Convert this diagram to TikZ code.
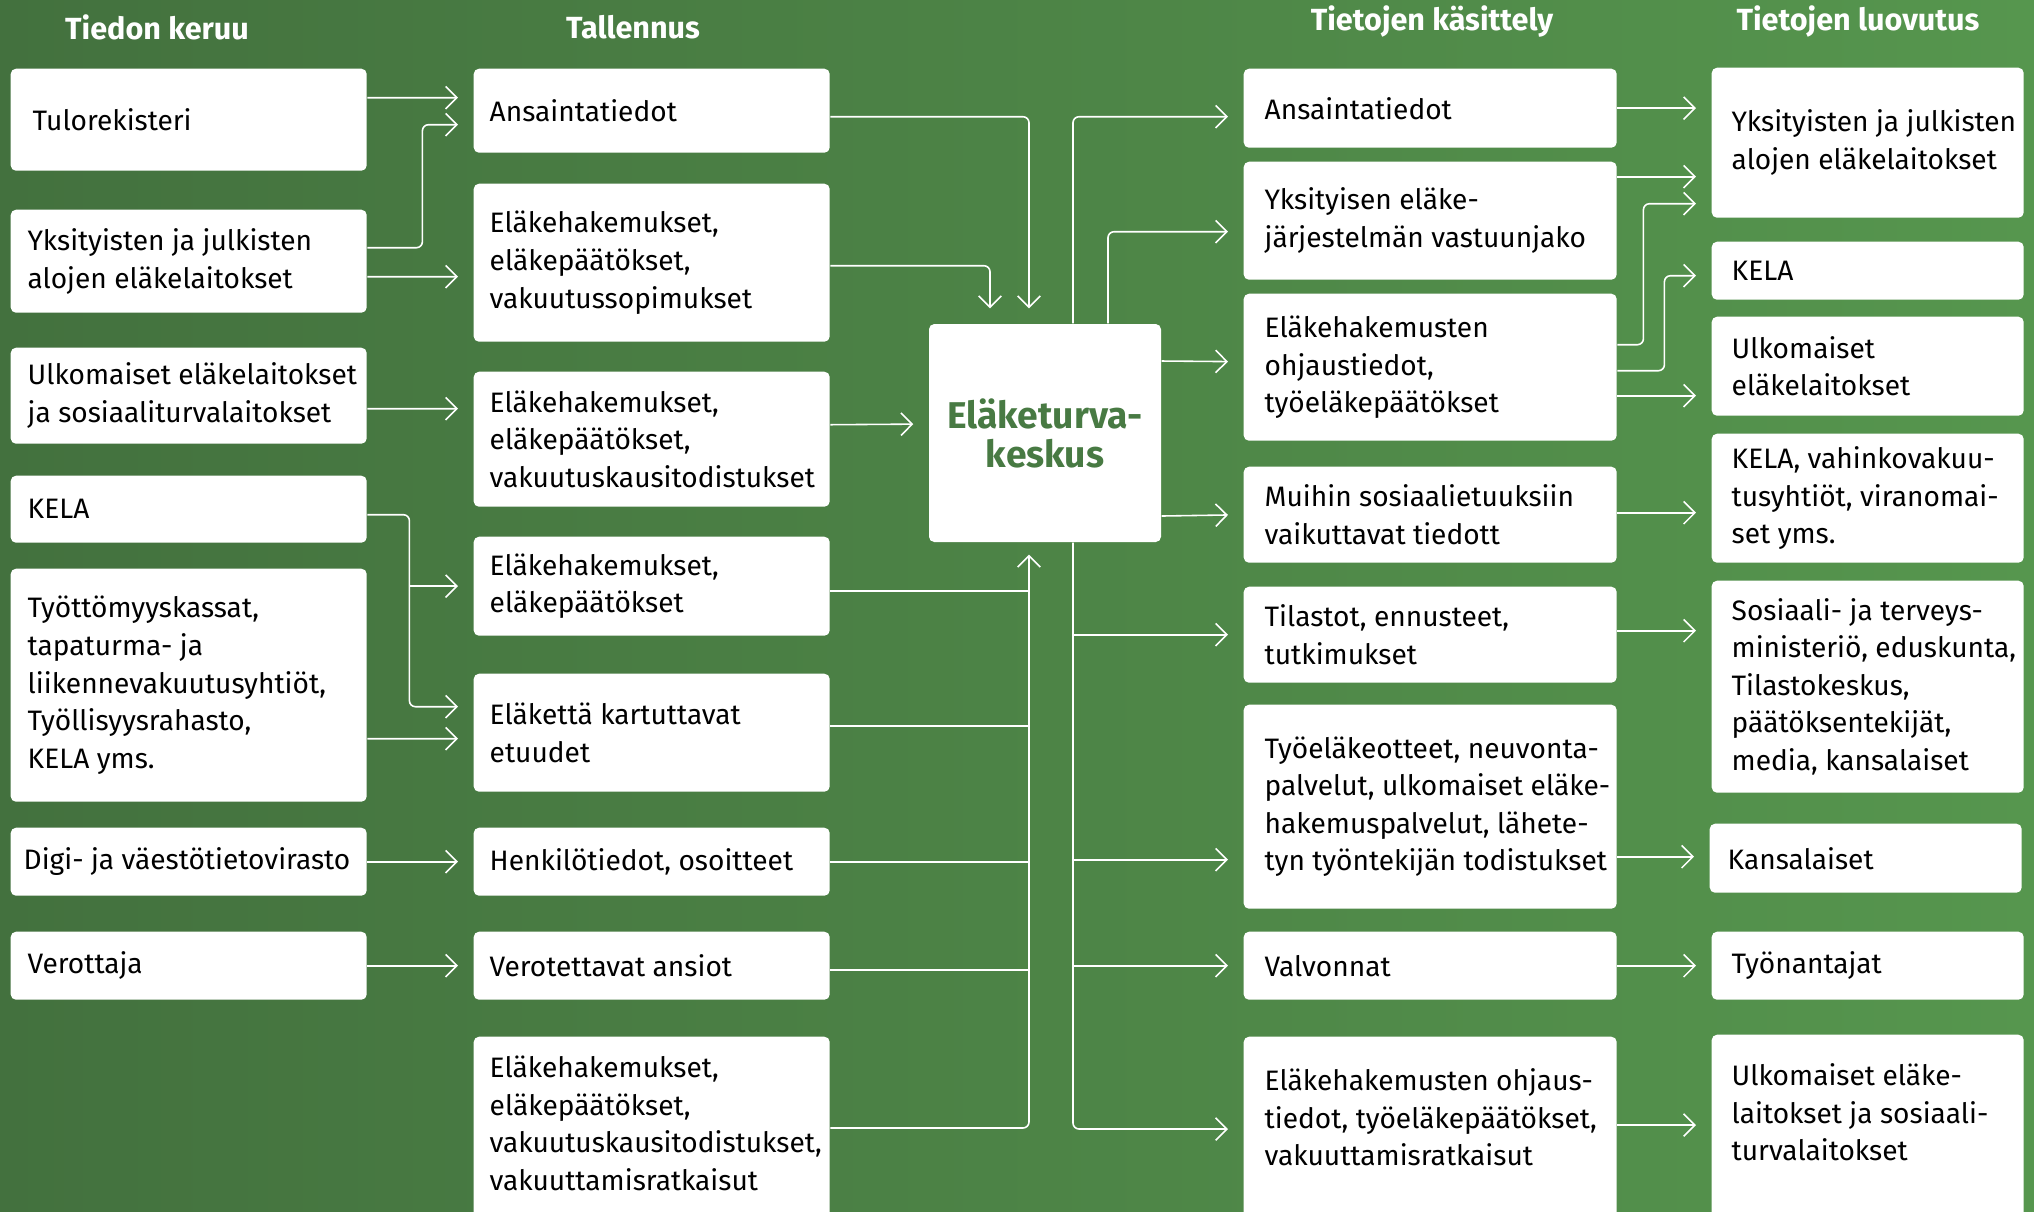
\documentclass[tikz,border=0pt]{standalone}
\usepackage{fontspec}
\setmainfont{Fira Sans}
\usetikzlibrary{arrows.meta}

\definecolor{bgleft}{RGB}{67,113,62}
\definecolor{bgright}{RGB}{86,150,78}
\definecolor{etkgreen}{RGB}{72,122,67}

\begin{document}
\begin{tikzpicture}[
  box/.style={fill=white, rounded corners=1.5pt, anchor=north west, inner sep=0pt,
    align=flush left, font=\fontsize{8.0}{10.7}\selectfont},
  pad/.style={execute at begin node={\leftskip=#1\relax\rightskip=-1cm plus 1fil\relax}},
  keruu/.style={box, text width=3.56cm, minimum height=#1, pad=1.7mm},
  tallennus/.style={box, text width=3.56cm, minimum height=#1, pad=1.6mm},
  kasittely/.style={box, text width=3.73cm, minimum height=#1, pad=2.1mm},
  luovutus/.style={box, text width=3.12cm, minimum height=#1, pad=2.0mm},
  cut/.style={minimum height=0pt, text height=#1, text depth=2.2cm},
  keskus/.style={fill=white, rounded corners=1.5pt, minimum width=2.32cm, minimum height=2.18cm,
    align=center, text=etkgreen, font=\bfseries\fontsize{10.6}{11.1}\selectfont},
  head/.style={text=white, font=\bfseries\fontsize{8.7}{10}\selectfont},
  flow/.style={draw=white, line width=0.45pt, rounded corners=0.6mm,
    -{Straight Barb[length=3.2pt,width=6.4pt]}, shorten >=1.5mm},
  wire/.style={draw=white, line width=0.45pt}
]
\useasboundingbox (0,0) rectangle (20.34,-12.11);
\clip (0,0) rectangle (20.34,-12.11);
\shade[left color=bgleft, right color=bgright] (0,0) rectangle (20.34,-12.11);

% headings
\node[head] (h1) at (1.57,-0.27) {Tiedon keruu};
\node[head] (h2) at (6.33,-0.27) {Tallennus};
\node[head] (h3) at (14.32,-0.21) {Tietojen käsittely};
\node[head] (h4) at (18.58,-0.21) {Tietojen luovutus};

% tiedon keruu
\node[keruu=1.02cm, pad=2.2mm] (k1) at (0.10,-0.68) {Tulorekisteri};
\node[keruu=1.03cm] (k2) at (0.10,-2.09) {Yksityisten ja julkisten\\alojen eläkelaitokset};
\node[keruu=0.96cm] (k3) at (0.10,-3.47) {Ulkomaiset eläkelaitokset\\ja sosiaaliturvalaitokset};
\node[keruu=0.67cm] (k4) at (0.10,-4.75) {KELA};
\node[keruu=2.33cm] (k5) at (0.10,-5.68) {Työttömyyskassat,\\tapaturma- ja\\liikennevakuutusyhtiöt,\\Työllisyysrahasto,\\KELA yms.};
\node[keruu=0.68cm, pad=1.3mm] (k6) at (0.10,-8.27) {Digi- ja väestötietovirasto};
\node[keruu=0.68cm] (k7) at (0.10,-9.31) {Verottaja};

% tallennus
\node[tallennus=0.84cm] (t1) at (4.73,-0.68) {Ansaintatiedot};
\node[tallennus=1.58cm] (t2) at (4.73,-1.83) {Eläkehakemukset,\\eläkepäätökset,\\vakuutussopimukset};
\node[tallennus=1.35cm] (t3) at (4.73,-3.71) {Eläkehakemukset,\\eläkepäätökset,\\vakuutuskausitodistukset};
\node[tallennus=0.99cm] (t4) at (4.73,-5.36) {Eläkehakemukset,\\eläkepäätökset};
\node[tallennus=1.18cm] (t5) at (4.73,-6.73) {Eläkettä kartuttavat\\etuudet};
\node[tallennus=0.68cm] (t6) at (4.73,-8.27) {Henkilötiedot, osoitteet};
\node[tallennus=0.68cm] (t7) at (4.73,-9.31) {Verotettavat ansiot};
\node[tallennus=0pt, cut=0.41cm] (t8) at (4.73,-10.36) {Eläkehakemukset,\\eläkepäätökset,\\vakuutuskausitodistukset,\\vakuuttamisratkaisut};

% keskus
\node[keskus] (ek) at (10.45,-4.33) {Eläketurva-\\keskus};

% tietojen kasittely
\node[kasittely=0.79cm] (p1) at (12.43,-0.68) {Ansaintatiedot};
\node[kasittely=1.18cm] (p2) at (12.43,-1.61) {Yksityisen eläke-\\järjestelmän vastuunjako};
\node[kasittely=1.47cm] (p3) at (12.43,-2.93) {Eläkehakemusten\\ohjaustiedot,\\työeläkepäätökset};
\node[kasittely=0.96cm] (p4) at (12.43,-4.66) {Muihin sosiaalietuuksiin\\vaikuttavat tiedott};
\node[kasittely=0.96cm] (p5) at (12.43,-5.86) {Tilastot, ennusteet,\\tutkimukset};
\node[kasittely=2.04cm] (p6) at (12.43,-7.04) {Työeläkeotteet, neuvonta-\\palvelut, ulkomaiset eläke-\\hakemuspalvelut, lähete-\\tyn työntekijän todistukset};
\node[kasittely=0.68cm] (p7) at (12.43,-9.31) {Valvonnat};
\node[kasittely=0pt, cut=0.54cm] (p8) at (12.43,-10.36) {Eläkehakemusten ohjaus-\\tiedot, työeläkepäätökset,\\vakuuttamisratkaisut};

% tietojen luovutus
\node[luovutus=1.50cm] (l1) at (17.11,-0.67) {Yksityisten ja julkisten\\alojen eläkelaitokset};
\node[luovutus=0.58cm] (l2) at (17.11,-2.41) {KELA};
\node[luovutus=0.99cm] (l3) at (17.11,-3.16) {Ulkomaiset\\eläkelaitokset};
\node[luovutus=1.29cm] (l4) at (17.11,-4.33) {KELA, vahinkovakuu-\\tusyhtiöt, viranomai-\\set yms.};
\node[luovutus=2.12cm] (l5) at (17.11,-5.80) {Sosiaali- ja terveys-\\ministeriö, eduskunta,\\Tilastokeskus,\\päätöksentekijät,\\media, kansalaiset};
\node[luovutus=0.69cm, pad=1.8mm] (l6) at (17.09,-8.23) {Kansalaiset};
\node[luovutus=0.68cm] (l7) at (17.11,-9.31) {Työnantajat};
\node[luovutus=0pt, cut=0.51cm] (l8) at (17.11,-10.34) {Ulkomaiset eläke-\\laitokset ja sosiaali-\\turvalaitokset};

% keruu -> tallennus
\draw[flow] ([yshift=2.2mm]k1.east) -- ([yshift=1.3mm]t1.west);
\draw[flow] ([yshift=1.35mm]k2.east) -- ++(0.55,0) |- ([yshift=-1.4mm]t1.west);
\draw[flow] ([yshift=-1.55mm]k2.east) -- ([yshift=-1.4mm]t2.west);
\draw[flow] ([yshift=-1.3mm]k3.east) -- ([yshift=3.05mm]t3.west);
\coordinate (kb) at ([xshift=4.2mm,yshift=-0.55mm]k4.east);
\draw[flow] ([yshift=-0.55mm]k4.east) -- (kb) |- ([yshift=2.6mm]t5.west);
\draw[flow] (kb |- t4.west) -- (t4.west);
\draw[flow] ([yshift=-5.35mm]k5.east) -- ([yshift=-0.6mm]t5.west);
\draw[flow] (k6.east) -- (t6.west);
\draw[flow] (k7.east) -- (t7.west);

% tallennus -> keskus
\draw[flow] ([yshift=-0.6mm]t1.east) -| ([xshift=-1.6mm]ek.north);
\draw[flow] ([yshift=-0.3mm]t2.east) -| ([xshift=-5.5mm]ek.north);
\draw[flow] ([yshift=1.45mm]t3.east) -- ([yshift=0.9mm]ek.west);
\coordinate (inbus) at ([xshift=-1.6mm]ek.south);
\draw[flow, shorten >=1.2mm] ([yshift=-9.2mm]t8.north east) -| (inbus);
\foreach \n/\dy in {t4/-0.45mm, t5/0.7mm, t6/0mm, t7/-0.4mm}
  \draw[wire] ([yshift=\dy]\n.east) -- ([yshift=\dy]\n.east -| inbus);

% keskus -> kasittely
\draw[flow] ([xshift=2.8mm]ek.north) |- ([yshift=-0.85mm]p1.west);
\draw[flow] ([xshift=6.3mm]ek.north) |- ([yshift=-1.1mm]p2.west);
\draw[flow] ([yshift=7.2mm]ek.east) -- ([yshift=0.55mm]p3.west);
\draw[flow] ([yshift=-8.3mm]ek.east) -- (p4.west);
\coordinate (outbus) at ([xshift=2.8mm]ek.south);
\draw[flow] (outbus) |- ([yshift=-9.3mm]p8.north west);
\draw[flow] (outbus |- p5.west) -- (p5.west);
\draw[flow] ([yshift=-5.3mm]outbus |- p6.west) -- ([yshift=-5.3mm]p6.west);
\draw[flow] (outbus |- p7.west) -- (p7.west);

% kasittely -> luovutus
\draw[flow] (p1.east) -- (p1.east -| l1.west);
\draw[flow] ([yshift=4.4mm]p2.east) -- ([yshift=4.4mm]p2.east -| l1.west);
\draw[flow] ([yshift=2.25mm]p3.east) -- ++(0.26,0) |- ([yshift=-6.1mm]l1.west);
\draw[flow] ([yshift=-0.35mm]p3.east) -- ++(0.47,0) |- ([yshift=-0.5mm]l2.west);
\draw[flow] ([yshift=-2.85mm]p3.east) -- ([yshift=-2.85mm]p3.east -| l3.west);
\draw[flow] ([yshift=0.2mm]p4.east) -- ([yshift=0.2mm]p4.east -| l4.west);
\draw[flow] ([yshift=0.4mm]p5.east) -- ([yshift=0.4mm]p5.east -| l5.west);
\draw[flow] ([yshift=-5mm]p6.east) -- ([yshift=-5mm]p6.east -| l6.west);
\draw[flow] (p7.east) -- (l7.west);
\draw[flow] ([yshift=-8.9mm]p8.north east) -- ([yshift=-8.9mm]p8.north east -| l8.west);

\end{tikzpicture}
\end{document}
